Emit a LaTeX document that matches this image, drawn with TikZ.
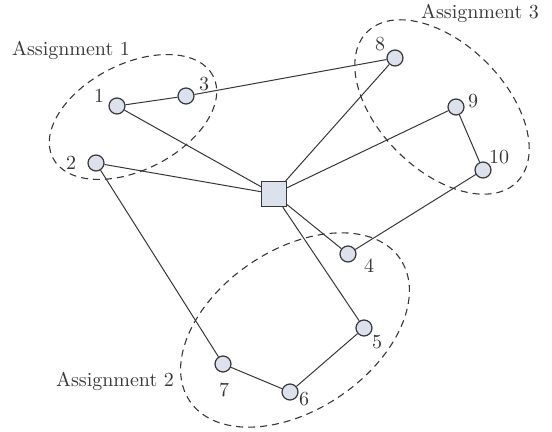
\documentclass[tikz,border=0pt]{standalone}
\usepackage{tikz}
\usetikzlibrary{shapes.geometric}
\definecolor{nodefill}{RGB}{220,225,238}
\definecolor{inkgray}{RGB}{55,55,55}
\tikzstyle{customer} = [circle, minimum size=8pt, inner sep=0pt, draw=inkgray, fill=nodefill, line width=0.6pt]
\tikzstyle{depot} = [rectangle, minimum size=12.5pt, inner sep=0pt, draw=inkgray, fill=nodefill, line width=0.6pt]
\tikzstyle{zone} = [ellipse, inner sep=0pt, draw=inkgray, dash pattern=on 3.5pt off 2.5pt, line width=0.55pt]
\tikzstyle{lbl} = [text=inkgray, inner sep=0pt]
\tikzstyle{route} = [line width=0.5pt, draw=inkgray]

\begin{document}
\begin{tikzpicture}[x=0.5pt, y=-0.5pt]
\useasboundingbox (0,0) rectangle (552,432);
% assignment zones
\node (zone1) [zone, minimum width=90pt, minimum height=53pt, rotate=27] at (133,117) {};
\node (zone2) [zone, minimum width=127pt, minimum height=80pt, rotate=34] at (295,330) {};
\node (zone3) [zone, minimum width=106pt, minimum height=63pt, rotate=-45] at (442,107) {};
\node (zlbl1) [lbl] at (71,50) {Assignment 1};
\node (zlbl2) [lbl] at (115,381) {Assignment 2};
\node (zlbl3) [lbl] at (480,13) {Assignment 3};

% depot and customers
\node (depot) [depot] at (274,194) {};
\node (c1) [customer] at (117,106) {};
\node (c2) [customer] at (96,163) {};
\node (c3) [customer] at (186,96) {};
\node (c4) [customer] at (348,254) {};
\node (c5) [customer] at (364,328) {};
\node (c6) [customer] at (290,392) {};
\node (c7) [customer] at (223,364) {};
\node (c8) [customer] at (395,58) {};
\node (c9) [customer] at (456,107) {};
\node (c10) [customer] at (483,170) {};

\node (l1) [lbl] at (99,96) {1};
\node (l2) [lbl] at (71,163) {2};
\node (l3) [lbl] at (204,84) {3};
\node (l4) [lbl] at (369,266) {4};
\node (l5) [lbl] at (377,342) {5};
\node (l6) [lbl] at (304,399) {6};
\node (l7) [lbl] at (224,390) {7};
\node (l8) [lbl] at (380,44) {8};
\node (l9) [lbl] at (473,101) {9};
\node (l10) [lbl] at (499,157) {10};

% routes
\draw [route] (depot) -- (c1) -- (c3) -- (c8) -- (depot);
\draw [route] (depot) -- (c2) -- (c7) -- (c6) -- (c5) -- (depot);
\draw [route] (depot) -- (c9) -- (c10) -- (c4) -- (depot);
\end{tikzpicture}
\end{document}
